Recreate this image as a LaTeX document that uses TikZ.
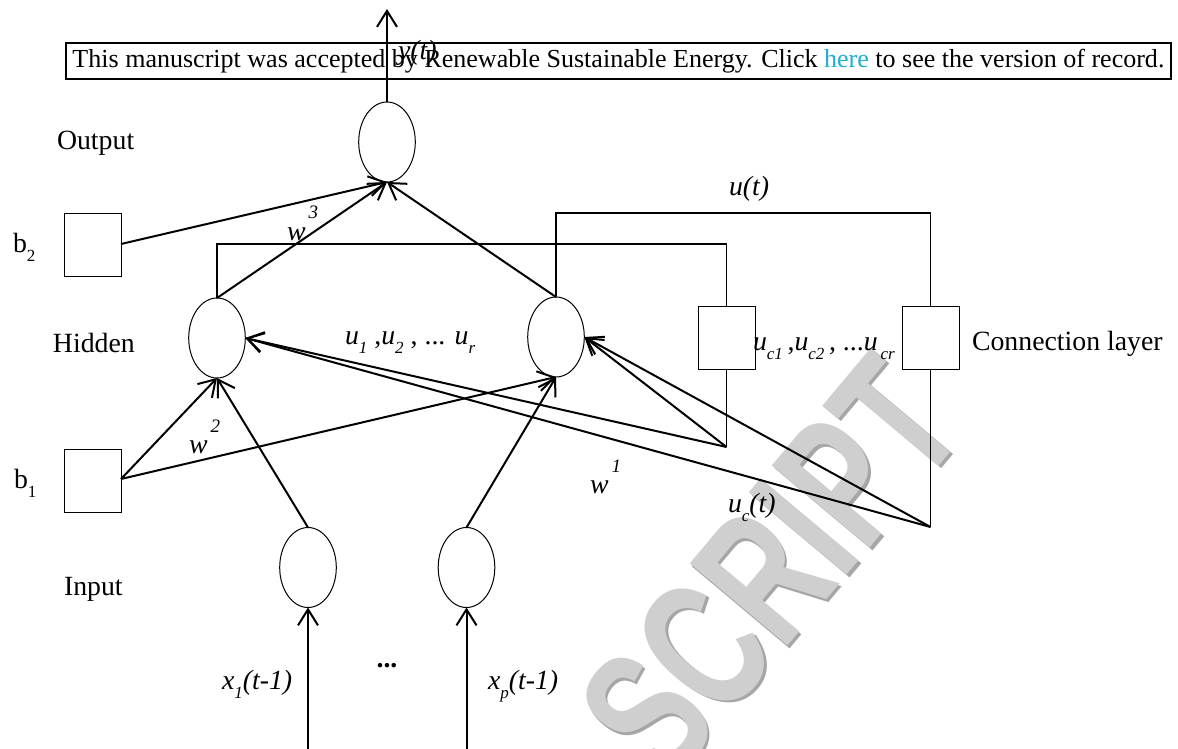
\documentclass[tikz,border=0pt]{standalone}
\usepackage{graphicx}
\usepackage{fontspec}
\setmainfont{Liberation Serif}
\newfontfamily\wmfont{Liberation Sans}
\usetikzlibrary{shapes.geometric,arrows.meta}
\definecolor{linkcyan}{RGB}{30,175,210}
\newcommand{\lo}[1]{\raisebox{-4.5pt}{\fontsize{8.5}{9}\selectfont #1}}
\newcommand{\hi}[1]{\hspace{1.5pt}\raisebox{10.5pt}{\fontsize{9.5}{10}\selectfont #1}}
\begin{document}
\begin{tikzpicture}[x=0.5pt,y=-0.5pt,
  every node/.style={font=\fontsize{13.9}{16}\selectfont, inner sep=0pt, outer sep=0pt},
  neuron/.style={draw, line width=0.5pt, ellipse, minimum width=28.3pt, minimum height=40pt},
  unitbox/.style={draw, line width=0.5pt, rectangle, minimum width=28.5pt, minimum height=31.5pt},
  conn/.style={line width=1pt, -{Straight Barb[length=8pt,width=10pt,line width=1pt]}},
  feed/.style={line width=0.7pt},
  lbl/.style={anchor=base west},
  wmark/.style={rotate=50, font=\wmfont\bfseries\fontsize{64}{64}\selectfont}
]
\useasboundingbox (0,0) rectangle (1178,749);

% watermark
\begin{scope}
\clip (0,0) rectangle (1178,749);
\node[wmark, text=gray!70] (wmshadow) at (772.5,570.5) {\scalebox{1}[1.45]{SCRIPT}};
\node[wmark, text=gray!38] (wm) at (770,568) {\scalebox{1}[1.45]{SCRIPT}};
\end{scope}

% neurons
\node[neuron] (out) at (387,142) {};
\node[neuron] (h1) at (217,338) {};
\node[neuron] (h2) at (556,337) {};
\node[neuron] (in1) at (308,567.5) {};
\node[neuron] (in2) at (466.5,567.5) {};

% boxes
\node[unitbox] (b2) at (92.5,244.5) {};
\node[unitbox] (b1) at (92.5,480.5) {};
\node[unitbox] (c1) at (726.5,337.5) {};
\node[unitbox] (c2) at (930.5,337.5) {};

% free ends
\coordinate (ytop) at (387,9);
\coordinate (x1bot) at (308,749);
\coordinate (xpbot) at (466.5,749);
\coordinate (k1) at (726.5,447);
\coordinate (k2) at (930.5,527);
\coordinate (b2e) at (121,244);
\coordinate (b1e) at (121,479);

% output arrows
\draw[conn] (out.north) -- (ytop);
\draw[conn] (b2e) -- (out.south);
\draw[conn] (h1.north) -- (out.south);
\draw[conn] (h2.north) -- (out.south);

% hidden arrows
\draw[conn] (b1e) -- (h1.south);
\draw[conn] (b1e) -- (h2.south);
\draw[conn] (in1.north) -- (h1.south);
\draw[conn] (in2.north) -- (h2.south);

% inputs
\draw[conn] (x1bot) -- (in1.south);
\draw[conn] (xpbot) -- (in2.south);

% feedback
\draw[feed] (h1.north) -- ++(0,-54) -| (c1.north);
\draw[feed] (h2.north) -- ++(0,-84) -| (c2.north);
\draw[feed] (c1.south) -- (k1);
\draw[feed] (c2.south) -- (k2);
\draw[conn] (k1) -- (h2.east);
\draw[conn] (k1) -- (h1.east);
\draw[conn] (k2) -- (h2.east);
\draw[conn] (k2) -- (h1.east);

% labels
\node[lbl] (lout) at (57,149) {Output};
\node[lbl] (lhid) at (53,352) {Hidden};
\node[lbl] (linp) at (64,595) {Input};
\node[lbl] (lcon) at (972,350) {Connection layer};
\node[lbl] (lb2) at (13,252) {b\lo{2}};
\node[lbl] (lb1) at (14,488) {b\lo{1}};
\node[lbl] (lut) at (729,195) {\textit{u(t)}};
\node[lbl] (lyt) at (398,60) {\textit{y(t)}};
\node[lbl] (lw3) at (287,240) {\textit{w}\hi{\textit{3}}};
\node[lbl] (lw2) at (189,453) {\textit{w}\hi{\textit{2}}};
\node[lbl] (lw1) at (590,493) {\textit{w}\hi{\textit{1}}};
\node[lbl] (lu) at (345,344) {\textit{u}\lo{\textit{1}} ,\textit{u}\lo{\textit{2}} , ... \textit{u}\lo{\textit{r}}};
\node[lbl] (luc) at (753,350) {\textit{u}\lo{\textit{c1}}\,,\textit{u}\lo{\textit{c2}}\,, ...\textit{u}\lo{\,\textit{cr}}};
\node[lbl] (luct) at (728,512) {\textit{u}\lo{\textit{c}}\textit{(t)}};
\node[lbl] (lx1) at (222,689) {\textit{x}\lo{\textit{1}}\textit{(t-1)}};
\node (ldots) at (387,666) {\textbf{...}};
\node[lbl] (lxp) at (488,689) {\textit{x}\lo{\textit{p}}\textit{(t-1)}};

% banner
\node[draw, line width=0.6pt, minimum width=552.5pt, minimum height=18pt] (banner) at (618.5,61)
  {\resizebox{546pt}{\height}{\fontsize{13}{15}\selectfont This manuscript was accepted by Renewable Sustainable Energy. Click \textcolor{linkcyan}{here} to see the version of record.}};
\end{tikzpicture}
\end{document}
